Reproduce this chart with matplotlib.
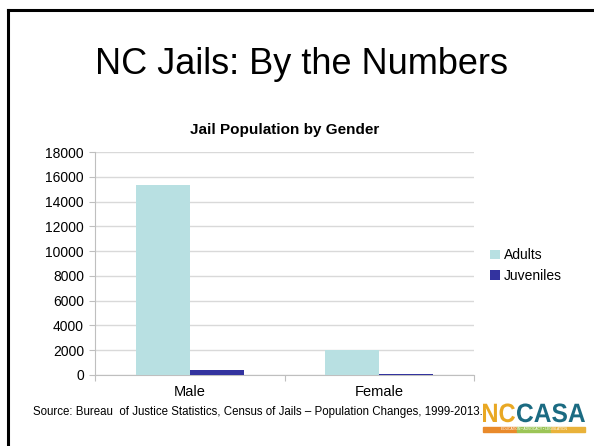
import matplotlib.pyplot as plt
from matplotlib.patches import Rectangle, PathPatch
from matplotlib.textpath import TextPath
from matplotlib.font_manager import FontProperties
from matplotlib.transforms import Affine2D, IdentityTransform
import numpy as np

# ====data====
categories = ['Male', 'Female']
series_names = ['Adults', 'Juveniles']
adults = [15330, 2020]
juveniles = [400, 60]
y_ticks = [0, 2000, 4000, 6000, 8000, 10000, 12000, 14000, 16000, 18000]

adult_color = '#B8E0E2'
juvenile_color = '#33339F'

plt.rcParams['font.family'] = ['Liberation Sans', 'DejaVu Sans']

# ====figure====
W, H = 594, 446
fig = plt.figure(figsize=(W / 100, H / 100), dpi=100)

# slide border (runs off the right and bottom edges)
fig.add_artist(plt.Line2D([8 / W, 8 / W], [1 - 10 / H, 0], color='black', linewidth=2.2,
                          transform=fig.transFigure))
fig.add_artist(plt.Line2D([8 / W, 1], [1 - 10 / H, 1 - 10 / H], color='black', linewidth=2.2,
                          transform=fig.transFigure))

fig.text(0.508, 1 - 64 / H, 'NC Jails: By the Numbers', ha='center', va='center', fontsize=26)

ax = fig.add_axes([95 / W, 1 - 375 / H, (474 - 95) / W, (375 - 152) / H])

x = np.arange(len(categories))
w = 0.285
ax.bar(x - w / 2, adults, width=w, color=adult_color, label=series_names[0], zorder=3)
ax.bar(x + w / 2, juveniles, width=w, color=juvenile_color, label=series_names[1], zorder=3)

ax.set_xlim(-0.5, 1.5)
ax.set_ylim(0, 18000)
ax.set_yticks(y_ticks)
ax.set_yticklabels([str(t) for t in y_ticks], fontsize=10)
ax.grid(axis='y', color='#D9D9D9', linewidth=1, zorder=0)

# category boundaries as major ticks, names as minor ticks
ax.set_xticks([-0.5, 0.5, 1.5])
ax.set_xticklabels([])
ax.set_xticks(x, minor=True)
ax.set_xticklabels(categories, minor=True, fontsize=10.5)
ax.tick_params(axis='x', which='minor', length=0, pad=7)
ax.tick_params(axis='x', which='major', length=4, color='#BFBFBF')
ax.tick_params(axis='y', length=4, color='#BFBFBF', pad=4)

for side in ['top', 'right']:
    ax.spines[side].set_visible(False)
ax.spines['left'].set_color('#BFBFBF')
ax.spines['bottom'].set_color('#BFBFBF')

ax.set_title('Jail Population by Gender', fontsize=11, fontweight='bold', pad=13)

ax.legend(loc='center left', bbox_to_anchor=(1.01, 0.49), frameon=False, fontsize=10,
          handlelength=0.7, handleheight=0.7, handletextpad=0.3, labelspacing=0.5)

# source line
fig.text(33 / W, 1 - 412 / H,
         'Source: Bureau  of Justice Statistics, Census of Jails \u2013 Population Changes, 1999-2013.',
         ha='left', va='center', fontsize=8.3)


# NCCASA logo: condensed heavy letters drawn as paths in pixel coords
def logo_word(word, left, right, baseline, cap_h, color):
    prop = FontProperties(family='Liberation Sans', weight='bold')
    tp = TextPath((0, 0), word, size=cap_h / 0.716, prop=prop)
    ext = tp.get_extents()
    sx = (right - left) / ext.width
    tr = Affine2D().translate(-ext.x0, 0).scale(sx, 1).translate(left, H - baseline)
    fig.add_artist(PathPatch(tr.transform_path(tp), facecolor=color, edgecolor='none',
                             transform=IdentityTransform()))


logo_word('NC', 483, 515, 422, 19, '#E9A823')
logo_word('CASA', 517, 585, 422, 19, '#1B6B82')

strip_y = 1 - 432 / H
strip_h = 5 / H
fig.add_artist(Rectangle((483 / W, strip_y), 34 / W, strip_h, color='#E98A2B', transform=fig.transFigure))
fig.add_artist(Rectangle((517 / W, strip_y), 34 / W, strip_h, color='#9CC557', transform=fig.transFigure))
fig.add_artist(Rectangle((551 / W, strip_y), 34 / W, strip_h, color='#E9B23A', transform=fig.transFigure))
fig.text(534 / W, strip_y + strip_h / 2, 'EDUCATION \u2022 ADVOCACY \u2022 LEGISLATION',
         color='white', fontsize=2.4, ha='center', va='center')

fig.savefig('out.png', dpi=100)
